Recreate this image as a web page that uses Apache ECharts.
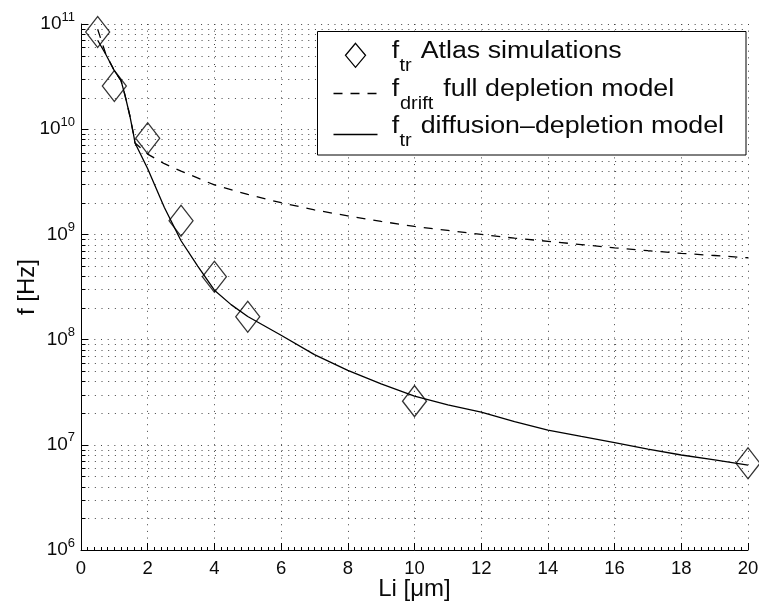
<!DOCTYPE html>
<html>
<head>
<meta charset="utf-8">
<script src="https://cdn.jsdelivr.net/npm/echarts@6/dist/echarts.min.js"></script>
<style>
  html, body { margin: 0; padding: 0; background: #fff; }
  #chart { width: 759px; height: 608px; }
</style>
</head>
<body>
<div id="chart"></div>
<script>
// Device length Li (µm) and transit / drift frequencies (Hz)
const atlasLi = [0.5, 1, 2, 3, 4, 5, 10, 20];
const atlasF  = [8.4e10, 2.57e10, 8.2e9, 1.35e9, 3.96e8, 1.65e8, 2.6e7, 6.67e6];

const driftLi = [0.5, 0.75, 1, 1.2, 1.32, 1.47, 1.57, 1.62, 2, 2.5, 3, 4, 5, 6, 7, 8, 9, 10,
                 11, 12, 13, 14, 15, 16, 17, 18, 19, 20];
const driftF  = [8.9e10, 5.1e10, 3.6e10, 2.9e10, 2.1e10, 1.32e10, 9.1e9, 7.4e9, 5.8e9, 4.7e9,
                 4.0e9, 2.95e9, 2.4e9, 2.0e9, 1.71e9, 1.5e9, 1.33e9, 1.19e9,
                 1.09e9, 1.0e9, 9.2e8, 8.6e8, 8.0e8, 7.45e8, 7.0e8, 6.6e8, 6.3e8, 6.0e8];

const diffLi  = [0.5, 0.75, 1, 1.2, 1.32, 1.47, 1.57, 1.62, 2, 2.5, 3, 3.5, 4, 4.5, 5, 6, 7, 8,
                 9, 10, 11, 12, 13, 14, 15, 16, 17, 18, 19, 20];
const diffF   = [7.0e10, 5.1e10, 3.6e10, 2.9e10, 2.1e10, 1.32e10, 9.1e9, 7.4e9, 4.2e9, 1.8e9,
                 8.7e8, 5.0e8, 2.95e8, 2.15e8, 1.66e8, 1.1e8, 7.2e7, 5.1e7,
                 3.8e7, 2.9e7, 2.4e7, 2.04e7, 1.66e7, 1.38e7, 1.2e7, 1.05e7, 9.1e6, 8.0e6, 7.2e6, 6.4e6];

// Axis ticks
const liMin = 0, liMax = 20, liStep = 2;
const fDecades   = [1e6, 1e7, 1e8, 1e9, 1e10, 1e11];
const fDecadeExp = ['6', '7', '8', '9', '10', '11'];
const fMinorMultipliers = [2, 3, 4, 5, 6, 7, 8, 9];

const legendLabels = [
  { sub: 'tr',    text: 'Atlas simulations' },
  { sub: 'drift', text: 'full depletion model' },
  { sub: 'tr',    text: 'diffusion\u2013depletion model' }
];

const FONT = '"Liberation Sans", Arial, Helvetica, sans-serif';
const INK = '#0a0a0a';

const zip = (xs, ys) => xs.map((x, i) => [x, ys[i]]);

// minor log gridlines (2..9 of each decade)
const fMinor = [];
fDecades.slice(0, -1).forEach(d => fMinorMultipliers.forEach(m => fMinor.push(d * m)));

const dotted = [1, 5.67];

function minorGrid(params, api) {
  const v = api.value(1);
  const a = api.coord([liMin, v]);
  const b = api.coord([liMax, v]);
  const y = Math.round(a[1]) + 0.5;
  const x0 = Math.round(a[0]) + 0.5;
  return {
    type: 'group',
    silent: true,
    children: [
      { type: 'line', shape: { x1: x0, y1: y, x2: b[0], y2: y },
        style: { stroke: '#444', lineWidth: 1, lineDash: dotted } },
      { type: 'line', shape: { x1: x0, y1: y, x2: x0 + 4, y2: y },
        style: { stroke: '#000', lineWidth: 1 } }
    ]
  };
}

// legend block
const legendBox = { left: 317.5, top: 31.5, width: 428.5, height: 123.5 };
const rowBase = [59.3, 96.5, 133.5];
const subBase = [71.7, 109.3, 146.7];
const textX = [420.7, 443.3, 420.7];
const MAIN_FS = 23.5, SUB_FS = 17.5, SX = 1.14;

function legendText(str, x, baseline, fs) {
  return {
    type: 'text', x: x, y: baseline - 0.31 * fs, scaleX: SX, z: 11, silent: true,
    style: { text: str, x: 0, y: 0, align: 'left', verticalAlign: 'middle',
             font: fs + 'px ' + FONT, fill: INK }
  };
}

const legendGraphics = [
  { type: 'rect', z: 10, silent: true,
    shape: { x: legendBox.left, y: legendBox.top, width: legendBox.width, height: legendBox.height },
    style: { fill: '#fff', stroke: '#000', lineWidth: 1 } },
  // marker glyphs
  { type: 'polygon', z: 11, silent: true,
    shape: { points: [[355.5, 43.3], [365.5, 55.3], [355.5, 67.3], [345.5, 55.3]] },
    style: { fill: 'none', stroke: '#000', lineWidth: 1.3 } },
  { type: 'line', z: 11, silent: true,
    shape: { x1: 333.5, y1: 93.5, x2: 377.5, y2: 93.5 },
    style: { stroke: '#000', lineWidth: 1.3, lineDash: [9, 8] } },
  { type: 'line', z: 11, silent: true,
    shape: { x1: 333.5, y1: 134.5, x2: 377.5, y2: 134.5 },
    style: { stroke: '#000', lineWidth: 1.3 } }
];
legendLabels.forEach((lab, i) => {
  legendGraphics.push(legendText('f', 391.7, rowBase[i], MAIN_FS));
  legendGraphics.push(legendText(lab.sub, i === 1 ? 400 : 399.5, subBase[i], SUB_FS));
  legendGraphics.push(legendText(lab.text, textX[i], rowBase[i], MAIN_FS));
});

const chart = echarts.init(document.getElementById('chart'), null, { renderer: 'canvas' });

chart.setOption({
  animation: false,
  backgroundColor: '#fff',
  grid: { left: 81, right: 11, top: 24, bottom: 58, containLabel: false, outerBoundsMode: 'none' },
  xAxis: {
    type: 'value', min: liMin, max: liMax, interval: liStep,
    name: 'Li [\u03bcm]', nameLocation: 'middle', nameGap: 27, nameMoveOverlap: false,
    nameTextStyle: { fontFamily: FONT, fontSize: 24, color: INK },
    axisLine: { show: true, onZero: false, lineStyle: { color: '#000', width: 1 } },
    axisTick: { show: true, inside: true, length: 7, lineStyle: { color: '#000' } },
    minorTick: { show: true, splitNumber: 10, length: 3, lineStyle: { color: '#000' } },
    axisLabel: { fontFamily: FONT, fontSize: 18.5, color: INK, margin: 9 },
    splitLine: { show: true, lineStyle: { color: '#444', width: 1, type: dotted } }
  },
  yAxis: {
    type: 'log', logBase: 10, min: 1e6, max: 1e11,
    name: 'f [Hz]', nameLocation: 'middle', nameGap: 42, nameMoveOverlap: false,
    nameTextStyle: { fontFamily: FONT, fontSize: 24, color: INK },
    axisLine: { show: true, lineStyle: { color: '#000', width: 1 } },
    axisTick: { show: true, inside: true, length: 7, lineStyle: { color: '#000' } },
    axisLabel: {
      margin: 6,
      formatter: v => {
        const i = fDecades.findIndex(d => Math.abs(Math.log10(d) - Math.log10(v)) < 1e-6);
        return i < 0 ? '' : '{b|10}{e|' + fDecadeExp[i] + '}';
      },
      rich: {
        b: { fontFamily: FONT, fontSize: 19, color: INK, lineHeight: 19, verticalAlign: 'bottom' },
        e: { fontFamily: FONT, fontSize: 13, color: INK, lineHeight: 13, padding: [0, 0, 10, 0], verticalAlign: 'bottom' }
      }
    },
    splitLine: { show: true, lineStyle: { color: '#444', width: 1, type: dotted } }
  },
  graphic: legendGraphics,
  series: [
    {
      type: 'custom', name: 'minor', z: 1, silent: true,
      data: fMinor.map(v => [liMin, v]),
      encode: { x: 0, y: 1 },
      renderItem: minorGrid
    },
    {
      type: 'line', name: 'f_drift full depletion model', z: 3,
      data: zip(driftLi, driftF), symbol: 'none', silent: true,
      lineStyle: { color: '#000', width: 1.3, type: [9, 8] }
    },
    {
      type: 'line', name: 'f_tr diffusion-depletion model', z: 3,
      data: zip(diffLi, diffF), symbol: 'none', silent: true,
      lineStyle: { color: '#000', width: 1.3 }
    },
    {
      type: 'scatter', name: 'f_tr Atlas simulations', z: 4, clip: false,
      data: zip(atlasLi, atlasF), symbol: 'diamond', symbolSize: [24, 31], silent: true,
      itemStyle: { color: 'rgba(0,0,0,0)', borderColor: '#000', borderWidth: 1.3 }
    }
  ]
});
</script>
</body>
</html>
